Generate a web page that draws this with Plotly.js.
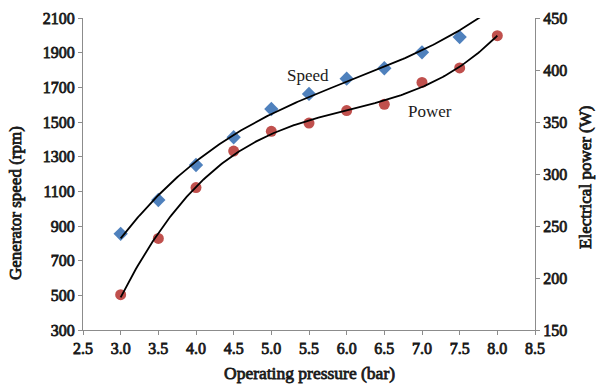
<!DOCTYPE html>
<html>
<head>
<meta charset="utf-8">
<script src="https://cdn.plot.ly/plotly-3.0.1.min.js"></script>
<style>
html,body{margin:0;padding:0;background:#fff;}
.xtick text, .ytick text, .y2tick text,
.annotation[data-index="2"] text, .annotation[data-index="3"] text, .annotation[data-index="4"] text {
  stroke: #1a1a1a; stroke-width: 0.8px;
}
</style>
</head>
<body>
<div id="chart" style="width:596px;height:386px;"></div>
<script>
// Data (speed at 8.0 bar lies above the axis and is clipped, as in the reference)
const pressureSpeed = [3.0, 3.5, 4.0, 4.5, 5.0, 5.5, 6.0, 6.5, 7.0, 7.5, 8.0];
const speedRpm = [855, 1050, 1252, 1412, 1575, 1662, 1750, 1810, 1902, 1990, 2205];
const pressurePower = [3.0, 3.5, 4.0, 4.5, 5.0, 5.5, 6.0, 6.5, 7.0, 7.5, 8.0];
const powerW = [184, 238, 287, 322, 341, 349, 361, 367, 388, 402, 433];
const xTicks = [2.5, 3.0, 3.5, 4.0, 4.5, 5.0, 5.5, 6.0, 6.5, 7.0, 7.5, 8.0, 8.5];
const leftTicks = [300, 500, 700, 900, 1100, 1300, 1500, 1700, 1900, 2100];
const rightTicks = [150, 200, 250, 300, 350, 400, 450];

// Cubic least-squares trendline (like an Excel polynomial trendline)
function polyfit(xs, ys, deg) {
  const n = deg + 1;
  const A = Array.from({length: n}, () => new Array(n + 1).fill(0));
  for (let i = 0; i < xs.length; i++) {
    for (let r = 0; r < n; r++) {
      for (let c = 0; c < n; c++) A[r][c] += Math.pow(xs[i], r + c);
      A[r][n] += ys[i] * Math.pow(xs[i], r);
    }
  }
  for (let i = 0; i < n; i++) {
    let p = i;
    for (let k = i + 1; k < n; k++) if (Math.abs(A[k][i]) > Math.abs(A[p][i])) p = k;
    [A[i], A[p]] = [A[p], A[i]];
    for (let k = i + 1; k < n; k++) {
      const f = A[k][i] / A[i][i];
      for (let j = i; j <= n; j++) A[k][j] -= f * A[i][j];
    }
  }
  const coef = new Array(n).fill(0);
  for (let i = n - 1; i >= 0; i--) {
    let s = A[i][n];
    for (let j = i + 1; j < n; j++) s -= A[i][j] * coef[j];
    coef[i] = s / A[i][i];
  }
  return x => coef.reduce((acc, c, k) => acc + c * Math.pow(x, k), 0);
}
function trend(xs, ys) {
  const f = polyfit(xs, ys, 3);
  const x0 = Math.min(...xs), x1 = Math.max(...xs);
  const tx = [], ty = [];
  for (let i = 0; i <= 200; i++) { const x = x0 + (x1 - x0) * i / 200; tx.push(x); ty.push(f(x)); }
  return {tx, ty};
}
const st = trend(pressureSpeed, speedRpm);
const pt = trend(pressurePower, powerW);

const serif = 'Liberation Serif';
const txt = '#1a1a1a';
const tFont = s => ({family: serif, size: s, color: txt});
const traces = [
  {x: pressureSpeed, y: speedRpm, mode: 'markers', marker: {symbol: 'diamond', size: 11, color: '#4f81bd'}, yaxis: 'y', cliponaxis: true},
  {x: pressurePower, y: powerW, mode: 'markers', marker: {symbol: 'circle', size: 11, color: '#c0504d'}, yaxis: 'y2', cliponaxis: false},
  {x: st.tx, y: st.ty, mode: 'lines', line: {color: '#000', width: 1.8}, hoverinfo: 'skip', yaxis: 'y'},
  {x: pt.tx, y: pt.ty, mode: 'lines', line: {color: '#000', width: 1.8}, hoverinfo: 'skip', yaxis: 'y2'}
];
const axisCommon = {
  showgrid: false, zeroline: false, showline: true, linecolor: '#8c8c8c', linewidth: 1,
  ticks: 'outside', ticklen: 4, tickcolor: '#8c8c8c',
  tickfont: tFont(16)
};
const titleAnn = (x, y, text, angle, size) => ({
  x, y, xref: 'paper', yref: 'paper', xanchor: 'center', yanchor: 'middle',
  text, textangle: angle, showarrow: false, font: tFont(size)
});
const layout = {
  width: 596, height: 386,
  margin: {l: 83, r: 61, t: 18, b: 56},
  paper_bgcolor: '#fff', plot_bgcolor: '#fff',
  showlegend: false,
  xaxis: Object.assign({}, axisCommon, {
    range: [2.5, 8.5], tickmode: 'array', tickvals: xTicks,
    ticktext: xTicks.map(v => v.toFixed(1))
  }),
  yaxis: Object.assign({}, axisCommon, {
    range: [300, 2100], tickmode: 'array', tickvals: leftTicks
  }),
  yaxis2: Object.assign({}, axisCommon, {
    range: [150, 450], tickmode: 'array', tickvals: rightTicks,
    overlaying: 'y', side: 'right'
  }),
  annotations: [
    {x: 5.49, y: 1771, xref: 'x', yref: 'y', xanchor: 'center', yanchor: 'middle', text: 'Speed', showarrow: false, font: tFont(17)},
    {x: 7.11, y: 1558, xref: 'x', yref: 'y', xanchor: 'center', yanchor: 'middle', text: 'Power', showarrow: false, font: tFont(17)},
    titleAnn(0.5, -0.1378, 'Operating pressure (bar)', 0, 17.5),
    titleAnn(-0.1504, 0.407, 'Generator speed (rpm)', -90, 17),
    titleAnn(1.1128, 0.4904, 'Electrical power (W)', -90, 17)
  ]
};
Plotly.newPlot('chart', traces, layout, {displayModeBar: false, staticPlot: true});
</script>
</body>
</html>
